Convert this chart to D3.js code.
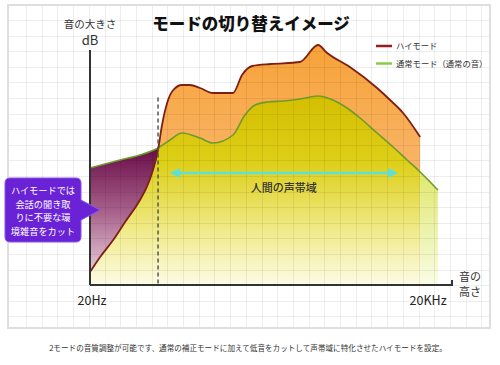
<!DOCTYPE html>
<html><head><meta charset="utf-8">
<script src="https://cdn.jsdelivr.net/npm/d3@7"></script>
<style>
body{margin:0;background:#fff;}
text{font-family:"Noto Sans CJK JP","Noto Sans",sans-serif;}
</style>
</head><body><svg id="c" width="500" height="365"></svg>
<script>
// ---- data (relative frequency position 0..100, relative level 0..100) ----
const highX = [0, 2.8, 6.4, 9.7, 13.8, 15.7, 17.4, 18.8, 19.9, 21.3, 23.0, 25.4, 27.6, 30.4, 34.0, 39.5, 42.0, 44.8, 50.0, 58.0, 63.0, 65.5, 71.8, 79.3, 82.9, 86.5, 91.2];
const highY = [5.2, 11.2, 18, 25.2, 34, 39.2, 46, 54, 64, 72.8, 78, 80, 80, 78.8, 76.8, 76.8, 84, 87.6, 88.4, 89.2, 96, 92.8, 87.2, 78.8, 74, 68.8, 59.2];
const normX = [0, 8.3, 13.8, 18.8, 22.1, 25.4, 30.4, 34.0, 39.5, 42.8, 45.6, 49.2, 53.3, 58.0, 63.0, 67.1, 71.0, 74.6, 79.3, 83.7, 87.6, 91.2, 96.1];
const normY = [46.8, 50, 52, 54.8, 58, 60.8, 58.8, 56.8, 60, 68, 72, 73.2, 73.6, 74.4, 75.6, 74, 70.8, 66.8, 60.8, 55.2, 50, 45.2, 38];
const cutX = 18.8;          // high-mode cut frequency
const voiceBand = [22.6, 84.5];
const xTickLabels = ["20Hz", "20KHz"];
const xTickValues = [0, 93.4];
const seriesNames = ["ハイモード", "通常モード（通常の音）"];
const title = "モードの切り替えイメージ";
const yAxisLabel = ["音の大きさ", "dB"];
const xAxisLabel = ["音の", "高さ"];
const voiceLabel = "人間の声帯域";
const calloutLines = ["ハイモードでは", "会話の聞き取", "りに不要な環", "境雑音をカット"];
const footer = "2モードの音質調整が可能です、通常の補正モードに加えて低音をカットして声帯域に特化させたハイモードを設定。";

const svg = d3.select("#c");
const x = d3.scaleLinear().domain([0, 100]).range([90, 452]);
const y = d3.scaleLinear().domain([0, 100]).range([285, 35]);

const high = highX.map((v, i) => [v, highY[i]]);
const norm = normX.map((v, i) => [v, normY[i]]);
const curve = d3.curveMonotoneX;

const defs = svg.append("defs");
function vgrad(id, y1, y2, stops) {
  const g = defs.append("linearGradient").attr("id", id).attr("gradientUnits", "userSpaceOnUse")
    .attr("x1", 0).attr("x2", 0).attr("y1", y1).attr("y2", y2);
  stops.forEach(s => g.append("stop").attr("offset", s[0]).attr("stop-color", s[1]));
}
vgrad("gPurple", 150, 290, [[0, "#6a0f4a"], [0.45, "#a9638c"], [1, "#f6ecf2"]]);
vgrad("gOrange", 45, 285, [[0, "#f7a238"], [0.5, "#f9b466"], [1, "#fde3c0"]]);
vgrad("gYellow", 95, 288, [[0, "#d4be00"], [0.35, "#ddcf18"], [0.7, "#f0ea88"], [1, "#fdfcea"]]);
vgrad("gLime", 170, 288, [[0, "#dfe86a"], [0.6, "#eef4b6"], [1, "#fbfde8"]]);

const areaHigh = d3.area().x(d => x(d[0])).y0(y(0)).y1(d => y(d[1])).curve(curve);
const areaNorm = d3.area().x(d => x(d[0])).y0(y(0)).y1(d => y(d[1])).curve(curve);
const cp = defs.append("clipPath").attr("id", "cpYellow");
cp.append("path").attr("d", areaHigh(high));
cp.append("rect").attr("x", x(cutX)).attr("y", 0).attr("width", x(highX[highX.length - 1]) - x(cutX)).attr("height", 300);
const cp2 = defs.append("clipPath").attr("id", "cpLime");
cp2.append("rect").attr("x", x(highX[highX.length - 1])).attr("y", 0).attr("width", 100).attr("height", 300);
const cp3 = defs.append("clipPath").attr("id", "cpPurple");
cp3.append("rect").attr("x", x(0)).attr("y", 0).attr("width", x(cutX) - x(0)).attr("height", 300);

// panel
svg.append("rect").attr("x", 8).attr("y", 5).attr("width", 482).attr("height", 323)
  .attr("fill", "#fff").attr("stroke", "#dedede").attr("stroke-width", 2);

// fills
svg.append("path").attr("d", areaNorm(norm)).attr("fill", "url(#gPurple)").attr("clip-path", "url(#cpPurple)");
svg.append("path").attr("d", areaHigh(high)).attr("fill", "url(#gOrange)");
svg.append("path").attr("d", areaNorm(norm)).attr("fill", "url(#gYellow)").attr("clip-path", "url(#cpYellow)");
svg.append("path").attr("d", areaNorm(norm)).attr("fill", "url(#gLime)").attr("clip-path", "url(#cpLime)");

// grid
const grid = svg.append("g").attr("stroke", "rgba(0,0,0,0.065)").attr("stroke-width", 1);
d3.range(26, 489, 15.7).forEach(gx => grid.append("line").attr("x1", Math.round(gx) + 0.5).attr("x2", Math.round(gx) + 0.5).attr("y1", 6).attr("y2", 327));
d3.range(20, 327, 15.6).forEach(gy => grid.append("line").attr("y1", Math.round(gy) + 0.5).attr("y2", Math.round(gy) + 0.5).attr("x1", 9).attr("x2", 489));

// lines
const line = d3.line().x(d => x(d[0])).y(d => y(d[1])).curve(curve);
svg.append("path").attr("d", line(norm)).attr("fill", "none").attr("stroke", "#6f9a2a").attr("stroke-width", 1.6);
svg.append("path").attr("d", line(high)).attr("fill", "none").attr("stroke", "#7e1f14").attr("stroke-width", 1.8);

// dashed cut line
svg.append("line").attr("x1", x(cutX)).attr("x2", x(cutX)).attr("y1", y(75)).attr("y2", y(0))
  .attr("stroke", "#555").attr("stroke-width", 1.5).attr("stroke-dasharray", "4,3");

// axes
svg.append("line").attr("x1", x(0)).attr("x2", x(0)).attr("y1", 50).attr("y2", y(0)).attr("stroke", "#333").attr("stroke-width", 2);
svg.append("path").attr("d", `M${x(0)},${y(0)}H${x(100)}V${y(0) - 5}`).attr("fill", "none").attr("stroke", "#333").attr("stroke-width", 2);

// voice band arrow
const ay = y(44.8);
const mk = defs.append("marker").attr("id", "ah").attr("viewBox", "0 0 10 10").attr("refX", 8).attr("refY", 5)
  .attr("markerWidth", 4).attr("markerHeight", 4).attr("orient", "auto-start-reverse");
mk.append("path").attr("d", "M0,0L10,5L0,10z").attr("fill", "#5ee0d6");
svg.append("line").attr("x1", x(voiceBand[0])).attr("x2", x(voiceBand[1])).attr("y1", ay).attr("y2", ay)
  .attr("stroke", "#5ee0d6").attr("stroke-width", 2.5)
  .attr("marker-start", "url(#ah)").attr("marker-end", "url(#ah)");
svg.append("text").attr("x", x((voiceBand[0] + voiceBand[1]) / 2)).attr("y", ay + 19).attr("text-anchor", "middle")
  .attr("font-size", 11).attr("fill", "#333").attr("font-weight", 500).text(voiceLabel);

// title
svg.append("text").attr("x", 251).attr("y", 30).attr("text-anchor", "middle").attr("font-size", 16.5)
  .attr("font-weight", 900).attr("fill", "#111").text(title);

// axis labels
svg.append("text").attr("x", 90).attr("y", 28).attr("text-anchor", "middle").attr("font-size", 10.5).attr("fill", "#333").text(yAxisLabel[0]);
svg.append("text").attr("x", 90).attr("y", 45).attr("text-anchor", "middle").attr("font-size", 13).attr("fill", "#333").text(yAxisLabel[1]);
svg.append("text").attr("x", 470).attr("y", 281).attr("text-anchor", "middle").attr("font-size", 11).attr("fill", "#333").text(xAxisLabel[0]);
svg.append("text").attr("x", 470).attr("y", 296).attr("text-anchor", "middle").attr("font-size", 11).attr("fill", "#333").text(xAxisLabel[1]);
xTickLabels.forEach((t, i) => {
  svg.append("text").attr("x", x(xTickValues[i]) + (i === 0 ? 2 : 0)).attr("y", 305).attr("text-anchor", "middle")
    .attr("font-size", 12.5).attr("fill", "#222").attr("font-family", "Roboto, sans-serif").text(t);
});

// legend
const legColors = ["#9b1c1c", "#88cc44"];
seriesNames.forEach((n, i) => {
  const ly = 46 + i * 17.5;
  svg.append("line").attr("x1", 376).attr("x2", 392).attr("y1", ly).attr("y2", ly).attr("stroke", legColors[i]).attr("stroke-width", 2.5);
  svg.append("text").attr("x", 396).attr("y", ly + 3).attr("font-size", 8.3).attr("fill", "#333").text(n);
});

// callout
const co = svg.append("g");
co.append("path").attr("d", "M10,178H76Q81,178 81,183V200L100,210L81,220V237Q81,242 76,242H10Q5,242 5,237V183Q5,178 10,178Z")
  .attr("fill", "#6a22d6").attr("stroke", "#8a55e6").attr("stroke-width", 1);
calloutLines.forEach((t, i) => {
  co.append("text").attr("x", 43).attr("y", 194 + i * 13.6).attr("text-anchor", "middle").attr("font-size", 9.2)
    .attr("fill", "#fff").text(t);
});

// footer
svg.append("text").attr("x", 248).attr("y", 351).attr("text-anchor", "middle").attr("font-size", 7.6)
  .attr("fill", "#333").text(footer);
</script>
</body></html>
